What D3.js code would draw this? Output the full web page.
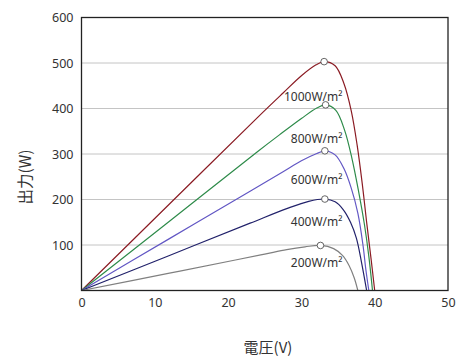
<!DOCTYPE html>
<html>
<head>
<meta charset="utf-8">
<script src="https://cdn.jsdelivr.net/npm/d3@7"></script>
<style>
  body { margin: 0; background: #fff; }
  text { font-family: "Noto Sans CJK JP", "Noto Sans", sans-serif; fill: #333; }
</style>
</head>
<body>
<svg id="chart" width="457" height="359"></svg>
<script>
// irradiance series
const seriesNames = ['1000W/m²', '800W/m²', '600W/m²', '400W/m²', '200W/m²'];
const seriesColors = ['#8b1c24', '#2e8b4a', '#6257c4', '#22226b', '#808080'];

// [voltage, power] points per curve
const curve1000 = [[0, 0], [12, 190], [24, 380], [27.5, 434], [30, 472], [32, 496], [33.1, 503],
  [34.6, 494], [35.8, 455], [36.8, 395], [37.6, 320], [38.3, 235], [38.9, 150], [39.5, 70], [40.0, 0]];
const curve800 = [[0, 0], [12, 152], [24, 305], [27, 342], [30, 378], [32.1, 401], [33.3, 408],
  [34.7, 396], [35.9, 352], [36.9, 290], [37.8, 218], [38.6, 145], [39.2, 75], [39.7, 0]];
const curve600 = [[0, 0], [12, 114], [23, 218], [27.5, 261], [30, 285], [32.1, 301], [33.2, 307],
  [34.6, 298], [35.8, 268], [36.8, 225], [37.7, 170], [38.4, 100], [38.8, 45], [39.2, 0]];
const curve400 = [[0, 0], [12, 77], [23, 148], [28, 180], [31, 196], [33.2, 201],
  [34.6, 195], [35.7, 178], [36.7, 150], [37.5, 115], [38.2, 62], [38.9, 0]];
const curve200 = [[0, 0], [12, 38], [21, 67], [25, 80], [28, 90], [30.5, 96], [32.6, 99],
  [34.4, 92], [35.6, 77], [36.5, 55], [37.2, 28], [37.7, 0]];
const curves = [curve1000, curve800, curve600, curve400, curve200];

// maximum power points
const peaks = [[33.1, 503], [33.3, 408], [33.2, 307], [33.2, 201], [32.6, 99]];
// label anchor (power level) for each series name
const labelPower = [426, 334, 243, 151, 60];
const labelVoltage = 35.6;

const xTicks = [0, 10, 20, 30, 40, 50];
const yTicks = [100, 200, 300, 400, 500, 600];

const plot = { left: 81.5, right: 448, top: 17.5, bottom: 290.5 };

const svg = d3.select('#chart');
const x = d3.scaleLinear().domain([0, 50]).range([plot.left, plot.right]);
const y = d3.scaleLinear().domain([0, 600]).range([plot.bottom, plot.top]);

// grid
svg.append('g')
  .selectAll('line')
  .data(yTicks.slice(0, -1))
  .enter()
  .append('line')
  .attr('x1', plot.left).attr('x2', plot.right)
  .attr('y1', d => y(d)).attr('y2', d => y(d))
  .attr('stroke', '#c4c4c4')
  .attr('stroke-width', 1);

// axes (labels only, no tick marks)
const xAxis = svg.append('g')
  .attr('transform', 'translate(0,' + plot.bottom + ')')
  .call(d3.axisBottom(x).tickValues(xTicks).tickSize(0).tickPadding(8));
const yAxis = svg.append('g')
  .attr('transform', 'translate(' + plot.left + ',0)')
  .call(d3.axisLeft(y).tickValues(yTicks).tickSize(0).tickPadding(8));
[xAxis, yAxis].forEach(a => {
  a.select('.domain').remove();
  a.selectAll('text').attr('font-size', 12.5).attr('fill', '#333')
    .style('font-family', '"Noto Sans", sans-serif');
});

const line = d3.line()
  .x(d => x(d[0]))
  .y(d => y(d[1]))
  .curve(d3.curveCatmullRom.alpha(0.5));

svg.append('clipPath').attr('id', 'plot')
  .append('rect')
  .attr('x', plot.left).attr('y', plot.top)
  .attr('width', plot.right - plot.left).attr('height', plot.bottom - plot.top);

svg.append('g')
  .attr('clip-path', 'url(#plot)')
  .selectAll('path')
  .data(curves)
  .enter()
  .append('path')
  .attr('d', line)
  .attr('fill', 'none')
  .attr('stroke', (d, i) => seriesColors[i])
  .attr('stroke-width', 1.2);

// frame
svg.append('rect')
  .attr('x', plot.left).attr('y', plot.top)
  .attr('width', plot.right - plot.left).attr('height', plot.bottom - plot.top)
  .attr('fill', 'none')
  .attr('stroke', '#222')
  .attr('stroke-width', 1.3);

// peak markers
svg.append('g')
  .selectAll('circle')
  .data(peaks)
  .enter()
  .append('circle')
  .attr('cx', d => x(d[0]))
  .attr('cy', d => y(d[1]))
  .attr('r', 3.3)
  .attr('fill', '#fff')
  .attr('stroke', '#555')
  .attr('stroke-width', 0.9);

// series labels
svg.append('g')
  .selectAll('text')
  .data(seriesNames)
  .enter()
  .append('text')
  .attr('x', x(labelVoltage))
  .attr('y', (d, i) => y(labelPower[i]))
  .attr('dy', '0.35em')
  .attr('text-anchor', 'end')
  .attr('font-size', 12)
  .style('font-family', '"Noto Sans", sans-serif')
  .text(d => d);

// axis titles
svg.append('text')
  .attr('x', 268)
  .attr('y', 348)
  .attr('dy', '0.35em')
  .attr('text-anchor', 'middle')
  .attr('font-size', 15)
  .text('電圧(V)');

svg.append('text')
  .attr('transform', 'translate(26,177) rotate(-90)')
  .attr('dy', '0.35em')
  .attr('text-anchor', 'middle')
  .attr('font-size', 15.5)
  .text('出力(W)');
</script>
</body>
</html>
